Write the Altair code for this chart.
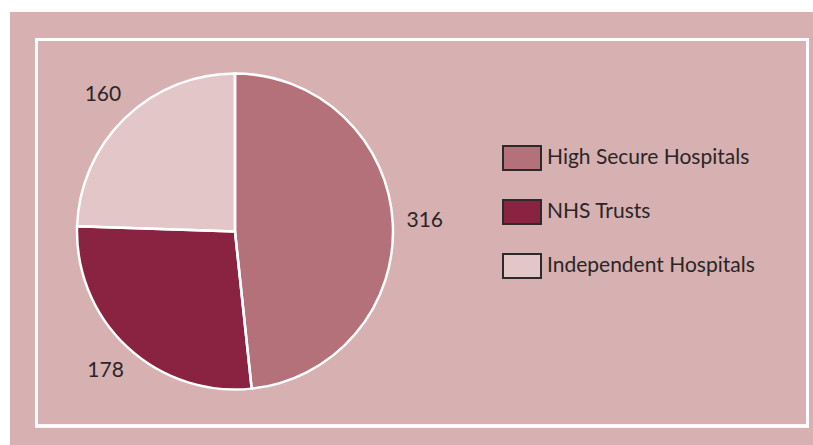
import altair as alt
import pandas as pd

categories = ["High Secure Hospitals", "NHS Trusts", "Independent Hospitals"]
values = [316, 178, 160]
colors = ["#b5717a", "#8a2341", "#e3c6c8"]

df = pd.DataFrame({"category": categories, "value": values, "order": [0, 1, 2]})

BG = "#d7b0b2"
TEXT = "#2a2627"
FONT = "Lato"

base = alt.Chart(df).encode(
    theta=alt.Theta("value:Q", stack=True),
    order=alt.Order("order:Q"),
)

pie = base.mark_arc(outerRadius=158, strokeWidth=0).encode(
    x=alt.value(225),
    y=alt.value(219.5),
    color=alt.Color(
        "category:N",
        scale=alt.Scale(domain=categories, range=colors),
        sort=categories,
        legend=alt.Legend(
            title=None,
            orient="none",
            legendX=492,
            legendY=126,
            symbolType="M-1,-0.632L1,-0.632L1,0.632L-1,0.632Z",
            symbolSize=1444,
            symbolStrokeColor="#2d2a2b",
            symbolStrokeWidth=2,
            symbolOpacity=1,
            labelFont=FONT,
            labelFontSize=21,
            labelFontWeight=400,
            labelColor=TEXT,
            labelOffset=5,
            labelLimit=400,
            rowPadding=17,
            padding=0,
        ),
    ),
)

outline = base.mark_arc(
    outerRadius=158, fillOpacity=0, stroke="white", strokeWidth=2.5
).encode(x=alt.value(225), y=alt.value(219.5))

labels = base.mark_text(
    radius=190, font=FONT, fontSize=21, fontWeight=400, color=TEXT,
    align="center", baseline="middle"
).encode(x=alt.value(225), y=alt.value(219.5), text="value:Q")

frame = alt.Chart(df).mark_rect(
    filled=False, stroke="white", strokeWidth=3
).encode(
    x=alt.value(26.5), x2=alt.value(797.5), y=alt.value(27.5), y2=alt.value(414)
)

chart = (
    alt.layer(frame, pie, outline, labels)
    .properties(
        width=803,
        height=433,
        padding={"left": 10, "top": 12, "right": 0, "bottom": 0},
        autosize=alt.AutoSizeParams(type="none"),
        background="white",
    )
    .configure_view(fill=BG, stroke=None)
)

chart.save("out.html", embed_options={"renderer": "svg", "actions": False})
